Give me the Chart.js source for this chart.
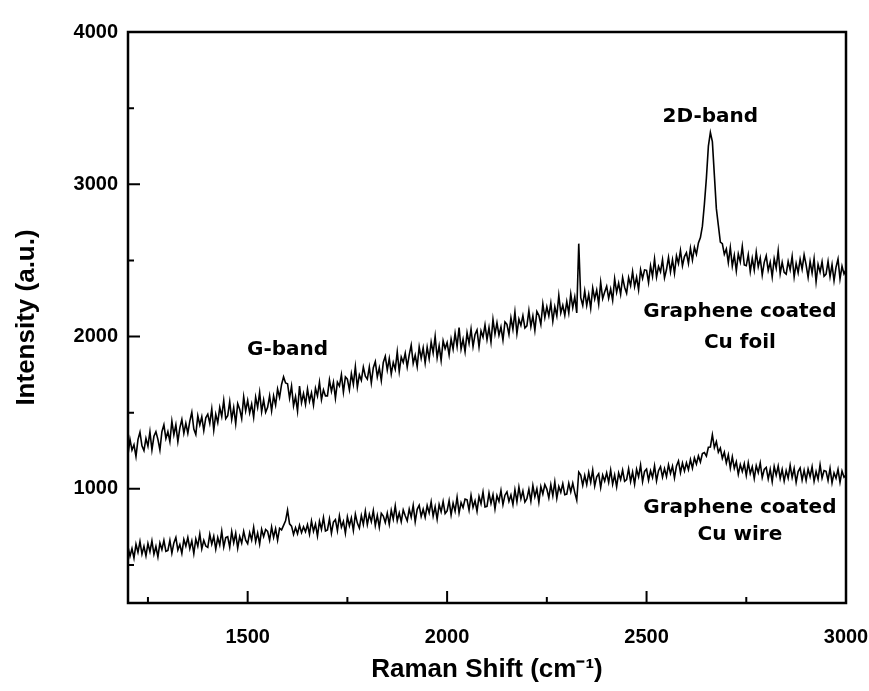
<!DOCTYPE html>
<html>
<head>
<meta charset="utf-8">
<title>Raman spectra</title>
<script src="https://cdn.jsdelivr.net/npm/chart.js@4.4.1/dist/chart.umd.min.js"></script>
<style>
  html, body { margin: 0; padding: 0; background: #fff; }
  canvas { display: block; }
</style>
</head>
<body>
<canvas id="raman" width="869" height="691"></canvas>
<script>
// spectra sampled every 5 cm-1 from 1200 to 3000
var shiftStart = 1200;
var shiftStep = 5;

// Graphene coated Cu foil
var foilIntensity = [
  1225,1325,1254,1289,1213,1323,1372,1282,1251,1331,
  1280,1375,1255,1345,1375,1325,1255,1375,1420,1330,
  1375,1310,1445,1355,1420,1310,1400,1455,1365,1430,
  1365,1444,1503,1392,1356,1480,1419,1473,1382,1466,
  1490,1430,1525,1385,1490,1435,1535,1475,1580,1460,
  1480,1573,1456,1534,1427,1560,1523,1461,1604,1512,
  1580,1498,1556,1469,1602,1535,1633,1506,1584,1502,
  1535,1611,1512,1610,1550,1655,1600,1685,1735,1695,
  1690,1595,1675,1545,1605,1510,1675,1565,1625,1555,
  1655,1575,1630,1550,1660,1610,1700,1585,1650,1610,
  1610,1715,1640,1700,1595,1700,1675,1750,1635,1735,
  1720,1650,1756,1686,1802,1667,1748,1713,1799,1740,
  1720,1800,1695,1795,1835,1735,1795,1710,1830,1870,
  1780,1855,1755,1830,1785,1900,1770,1865,1830,1890,
  1800,1880,1944,1824,1878,1803,1932,1857,1926,1826,
  1930,1854,1963,1892,2001,1860,1939,1843,1972,1921,
  1960,1879,1983,1917,2021,1935,2059,1918,1982,1901,
  2025,1955,2049,1934,2013,2043,1932,2037,1996,2076,
  1980,2059,1963,2112,2016,2090,2009,2063,1977,2096,
  2080,2014,2123,2047,2161,2020,2114,2073,2137,2056,
  2070,2170,2065,2135,2040,2165,2140,2080,2215,2125,
  2195,2135,2220,2100,2195,2135,2270,2155,2205,2140,
  2230,2155,2280,2190,2260,2155,2610,2255,2205,2300,
  2205,2278,2186,2319,2247,2305,2213,2356,2249,2292,
  2330,2251,2312,2238,2379,2290,2351,2277,2388,2324,
  2285,2387,2334,2426,2328,2390,2307,2439,2381,2438,
  2435,2355,2465,2395,2510,2390,2460,2425,2505,2385,
  2440,2520,2425,2505,2415,2530,2480,2565,2465,2525,
  2550,2480,2580,2502,2585,2540,2615,2650,2725,2870,
  3040,3250,3340,3280,3060,2840,2730,2620,2610,2540,
  2575,2485,2585,2462,2534,2431,2543,2490,2592,2470,
  2465,2538,2426,2514,2437,2555,2458,2516,2404,2487,
  2530,2434,2488,2392,2511,2450,2564,2413,2487,2421,
  2410,2494,2438,2527,2391,2480,2419,2508,2442,2536,
  2470,2389,2493,2417,2511,2360,2474,2423,2491,2396,
  2410,2494,2393,2472,2366,2455,2509,2378,2462,2411,
  2440
];

// Graphene coated Cu wire
var wireIntensity = [
  620,557,608,545,636,583,654,571,622,559,
  640,587,658,570,621,553,644,601,662,589,
  595,662,578,645,681,598,634,576,667,624,
  680,607,658,575,671,623,704,606,662,624,
  615,701,637,688,604,680,631,722,618,679,
  685,617,719,646,708,610,687,644,721,663,
  640,712,664,746,653,710,637,734,686,733,
  720,662,749,681,738,662,741,730,760,790,
  860,770,755,700,745,705,760,712,750,718,
  765,702,789,721,768,690,787,734,811,723,
  730,802,709,781,798,725,822,749,786,708,
  815,757,809,726,833,775,742,824,766,853,
  765,832,784,856,758,825,747,839,821,778,
  840,767,859,801,888,790,842,784,861,823,
  790,867,814,891,783,865,892,819,866,813,
  890,842,914,821,883,800,897,849,916,838,
  855,922,829,906,853,945,842,909,876,933,
  928,860,957,879,921,853,950,902,979,881,
  885,972,904,961,868,955,917,989,896,958,
  980,917,959,896,993,915,1012,934,986,913,
  935,997,919,1021,948,1000,912,1014,966,1028,
  998,940,1027,954,1046,938,1015,977,1034,961,
  965,1037,980,1037,975,925,1110,1090,1022,1088,
  1028,1108,1043,1123,1018,1079,1099,1009,1090,1051,
  1105,1042,1123,1030,1091,1013,1104,1061,1122,1049,
  1060,1132,1048,1110,1031,1128,1079,1156,1047,1114,
  1130,1056,1118,1074,1151,1052,1119,1145,1077,1133,
  1080,1158,1101,1149,1072,1150,1183,1106,1169,1117,
  1170,1126,1192,1135,1203,1163,1216,1176,1231,1238,
  1215,1273,1275,1355,1270,1310,1240,1268,1200,1240,
  1170,1223,1136,1210,1135,1177,1095,1159,1114,1165,
  1087,1171,1100,1144,1068,1152,1106,1170,1074,1127,
  1140,1064,1128,1047,1146,1090,1149,1068,1127,1051,
  1120,1070,1154,1074,1134,1043,1113,1137,1057,1121,
  1055,1130,1079,1144,1049,1113,1063,1157,1071,1120,
  1115,1055,1134,1039,1104,1069,1128,1042,1117,1076,
  1090
];

var xMajorTicks = [1500, 2000, 2500, 3000];
var xMinorTicks = [1250, 1750, 2250, 2750];
var yMajorTicks = [1000, 2000, 3000, 4000];
var yMinorTicks = [500, 1500, 2500, 3500];

// text written on the plot, placed in data units
var bandLabels = [
  {text: 'G-band', x: 1600, y: 1912},
  {text: '2D-band', x: 2660, y: 3442},
  {text: 'Graphene coated', x: 2734, y: 2162},
  {text: 'Cu foil', x: 2734, y: 1958},
  {text: 'Graphene coated', x: 2734, y: 875},
  {text: 'Cu wire', x: 2734, y: 698}
];

function toPoints(values) {
  return values.map(function(v, i) {
    return {x: shiftStart + i * shiftStep, y: v};
  });
}

function plainNumber(value) {
  return String(value);
}

var frameAndLabels = {
  id: 'frameAndLabels',
  afterDatasetsDraw: function(chart) {
    var ctx = chart.ctx;
    var a = chart.chartArea;
    var x = chart.scales.x;
    var y = chart.scales.y;
    ctx.save();
    ctx.strokeStyle = '#000';
    ctx.lineWidth = 2.5;
    ctx.strokeRect(a.left, a.top, a.right - a.left, a.bottom - a.top);

    // inward tick marks
    ctx.lineWidth = 2;
    ctx.beginPath();
    xMajorTicks.forEach(function(v) {
      var px = x.getPixelForValue(v);
      ctx.moveTo(px, a.bottom); ctx.lineTo(px, a.bottom - 12);
    });
    xMinorTicks.forEach(function(v) {
      var px = x.getPixelForValue(v);
      ctx.moveTo(px, a.bottom); ctx.lineTo(px, a.bottom - 6);
    });
    yMajorTicks.forEach(function(v) {
      var py = y.getPixelForValue(v);
      ctx.moveTo(a.left, py); ctx.lineTo(a.left + 12, py);
    });
    yMinorTicks.forEach(function(v) {
      var py = y.getPixelForValue(v);
      ctx.moveTo(a.left, py); ctx.lineTo(a.left + 6, py);
    });
    ctx.stroke();

    ctx.fillStyle = '#000';
    ctx.font = 'bold 20px "DejaVu Sans"';
    ctx.textAlign = 'center';
    ctx.textBaseline = 'middle';
    bandLabels.forEach(function(l) {
      ctx.fillText(l.text, x.getPixelForValue(l.x), y.getPixelForValue(l.y));
    });
    ctx.restore();
  }
};

var config = {
  type: 'line',
  data: {
    datasets: [{
      label: 'Graphene coated Cu foil',
      data: toPoints(foilIntensity),
      borderColor: '#000',
      borderWidth: 1.6,
      pointRadius: 0,
      tension: 0,
      fill: false
    }, {
      label: 'Graphene coated Cu wire',
      data: toPoints(wireIntensity),
      borderColor: '#000',
      borderWidth: 1.6,
      pointRadius: 0,
      tension: 0,
      fill: false
    }]
  },
  options: {
    responsive: false,
    animation: false,
    layout: {
      padding: {top: 32, right: 23, left: 0, bottom: 0}
    },
    plugins: {
      legend: {display: false},
      tooltip: {enabled: false}
    },
    scales: {
      x: {
        type: 'linear',
        min: 1200,
        max: 3000,
        grid: {display: false},
        border: {display: false},
        afterBuildTicks: function(scale) {
          scale.ticks = xMajorTicks.map(function(v) { return {value: v}; });
        },
        afterFit: function(scale) {
          scale.height = 88;
          scale.paddingLeft = 0;
          scale.paddingRight = 0;
        },
        ticks: {
          color: '#000',
          padding: 14,
          maxRotation: 0,
          callback: plainNumber,
          font: {family: '"Liberation Sans", Arial, sans-serif', size: 20, weight: 'bold'}
        },
        title: {
          display: true,
          text: 'Raman Shift (cm\u207B\u00B9)',
          color: '#000',
          padding: {top: 0, bottom: 6},
          font: {family: '"Liberation Sans", Arial, sans-serif', size: 26, weight: 'bold'}
        }
      },
      y: {
        min: 250,
        max: 4000,
        grid: {display: false},
        border: {display: false},
        afterBuildTicks: function(scale) {
          scale.ticks = yMajorTicks.map(function(v) { return {value: v}; });
        },
        afterFit: function(scale) {
          scale.width = 128;
          scale.paddingTop = 0;
          scale.paddingBottom = 0;
        },
        ticks: {
          color: '#000',
          padding: 2,
          callback: plainNumber,
          font: {family: '"Liberation Sans", Arial, sans-serif', size: 20, weight: 'bold'}
        },
        title: {
          display: true,
          text: 'Intensity (a.u.)',
          color: '#000',
          padding: {top: 11, bottom: 0},
          font: {family: '"Liberation Sans", Arial, sans-serif', size: 26, weight: 'bold'}
        }
      }
    }
  },
  plugins: [frameAndLabels]
};

var ramanChart = new Chart(document.getElementById('raman').getContext('2d'), config);
</script>
</body>
</html>
